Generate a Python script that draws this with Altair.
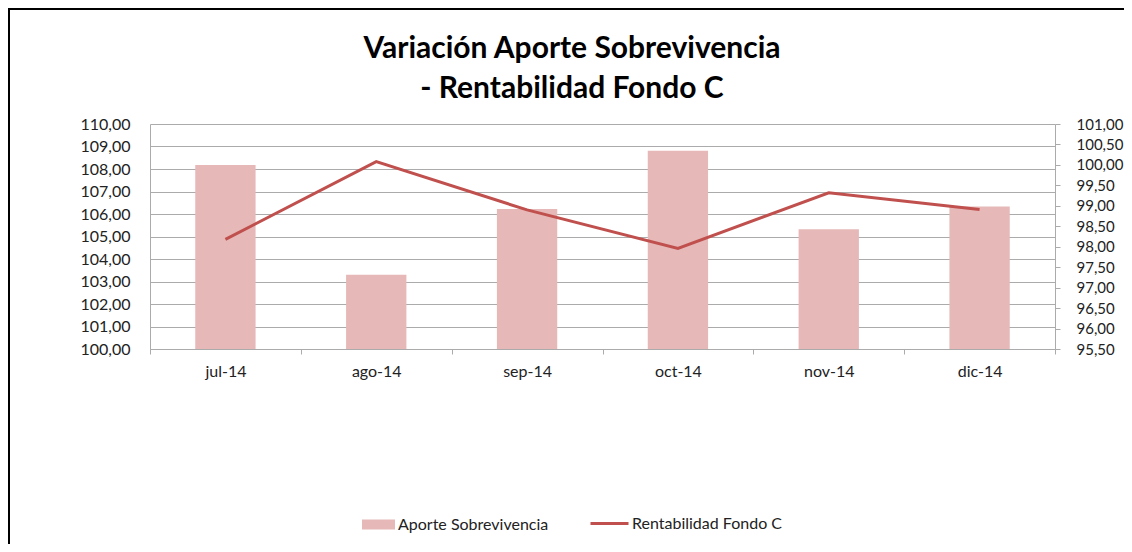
import altair as alt
import pandas as pd

meses = ["jul-14", "ago-14", "sep-14", "oct-14", "nov-14", "dic-14"]
aporte = [108.18, 103.30, 106.22, 108.81, 105.32, 106.33]
rentabilidad = [98.18, 100.08, 98.90, 97.96, 99.32, 98.91]
ticks_izq = [100 + i for i in range(11)]
ticks_der = [95.5 + 0.5 * i for i in range(12)]
titulo = ["Variación Aporte Sobrevivencia", "- Rentabilidad Fondo C"]

df = pd.DataFrame({
    "mes": meses,
    "aporte": aporte,
    "rentabilidad": rentabilidad,
    "serie_a": "Aporte Sobrevivencia",
    "serie_r": "Rentabilidad Fondo C",
})

FONT = "Lato"
GRID = "#ABABAB"
label_expr = "replace(format(datum.value, '.2f'), '.', ',')"

x = alt.X(
    "mes:N", sort=meses, title=None,
    scale=alt.Scale(paddingInner=0, paddingOuter=0),
    axis=alt.Axis(labelAngle=0, tickBand="extent", tickSize=5, tickColor=GRID,
                  domainColor=GRID, labelFont=FONT, labelFontSize=16,
                  labelColor="#222222", labelPadding=9, grid=False),
)

bars = alt.Chart(df).mark_bar(width=alt.RelativeBandSize(0.4), clip=True).encode(
    x=x,
    y=alt.Y("aporte:Q", title=None,
            scale=alt.Scale(domain=[100, 110], zero=False, nice=False),
            axis=alt.Axis(orient="left", values=ticks_izq, labelExpr=label_expr,
                          ticks=False, labelPadding=20, domainColor=GRID,
                          gridColor=GRID, gridWidth=1, grid=True, labelFont=FONT,
                          labelFontSize=16, labelColor="#222222")),
    y2=alt.datum(100),
    color=alt.Color("serie_a:N", title=None,
                    scale=alt.Scale(domain=["Aporte Sobrevivencia"], range=["#E6B9B8"]),
                    legend=alt.Legend(orient="none", legendX=212, legendY=384,
                                      symbolType="M-1,-0.3H1V0.3H-1Z", symbolSize=1089,
                                      symbolStrokeWidth=0, labelFont=FONT,
                                      labelFontSize=16, labelColor="#222222",
                                      labelOffset=3)),
)

line = alt.Chart(df).mark_line(strokeWidth=3).encode(
    x=alt.X("mes:N", sort=meses),
    y=alt.Y("rentabilidad:Q", title=None,
            scale=alt.Scale(domain=[95.5, 101], zero=False, nice=False),
            axis=alt.Axis(orient="right", values=ticks_der, labelExpr=label_expr,
                          tickSize=5, tickColor=GRID, labelPadding=16,
                          domainColor=GRID, grid=False, labelFont=FONT,
                          labelFontSize=15, labelColor="#222222")),
    stroke=alt.Stroke("serie_r:N", title=None,
                      scale=alt.Scale(domain=["Rentabilidad Fondo C"], range=["#C0504D"]),
                      legend=alt.Legend(orient="none", legendX=439, legendY=379,
                                        symbolType="stroke", symbolSize=1444,
                                        symbolStrokeWidth=3, labelFont=FONT,
                                        labelFontSize=16, labelColor="#222222",
                                        labelOffset=2)),
)

marco = pd.DataFrame({"k": [0]})
borde_izq = alt.Chart(marco).mark_rule(color="black", strokeWidth=3).encode(
    x=alt.value(-141.5), y=alt.value(-116), y2=alt.value(420))
borde_sup = alt.Chart(marco).mark_rule(color="black", strokeWidth=3).encode(
    y=alt.value(-115.5), x=alt.value(-142), x2=alt.value(974))

tit1 = alt.Chart(marco).mark_text(
    text=titulo[0], font=FONT, fontSize=30, fontWeight="bold", color="black",
    align="center", baseline="alphabetic").encode(x=alt.value(422), y=alt.value(-66))
tit2 = alt.Chart(marco).mark_text(
    text=titulo[1], font=FONT, fontSize=30, fontWeight="bold", color="black",
    align="center", baseline="alphabetic").encode(x=alt.value(422), y=alt.value(-26))

chart = alt.layer(bars, line, borde_izq, borde_sup, tit1, tit2).resolve_scale(
    y="independent"
).properties(
    width=905,
    height=225,
    padding={"left": 142, "top": 116, "right": 69, "bottom": 195},
    autosize=alt.AutoSizeParams(type="none"),
).configure_view(stroke=None)

chart.save("out.html", embed_options={"renderer": "svg", "actions": False})
